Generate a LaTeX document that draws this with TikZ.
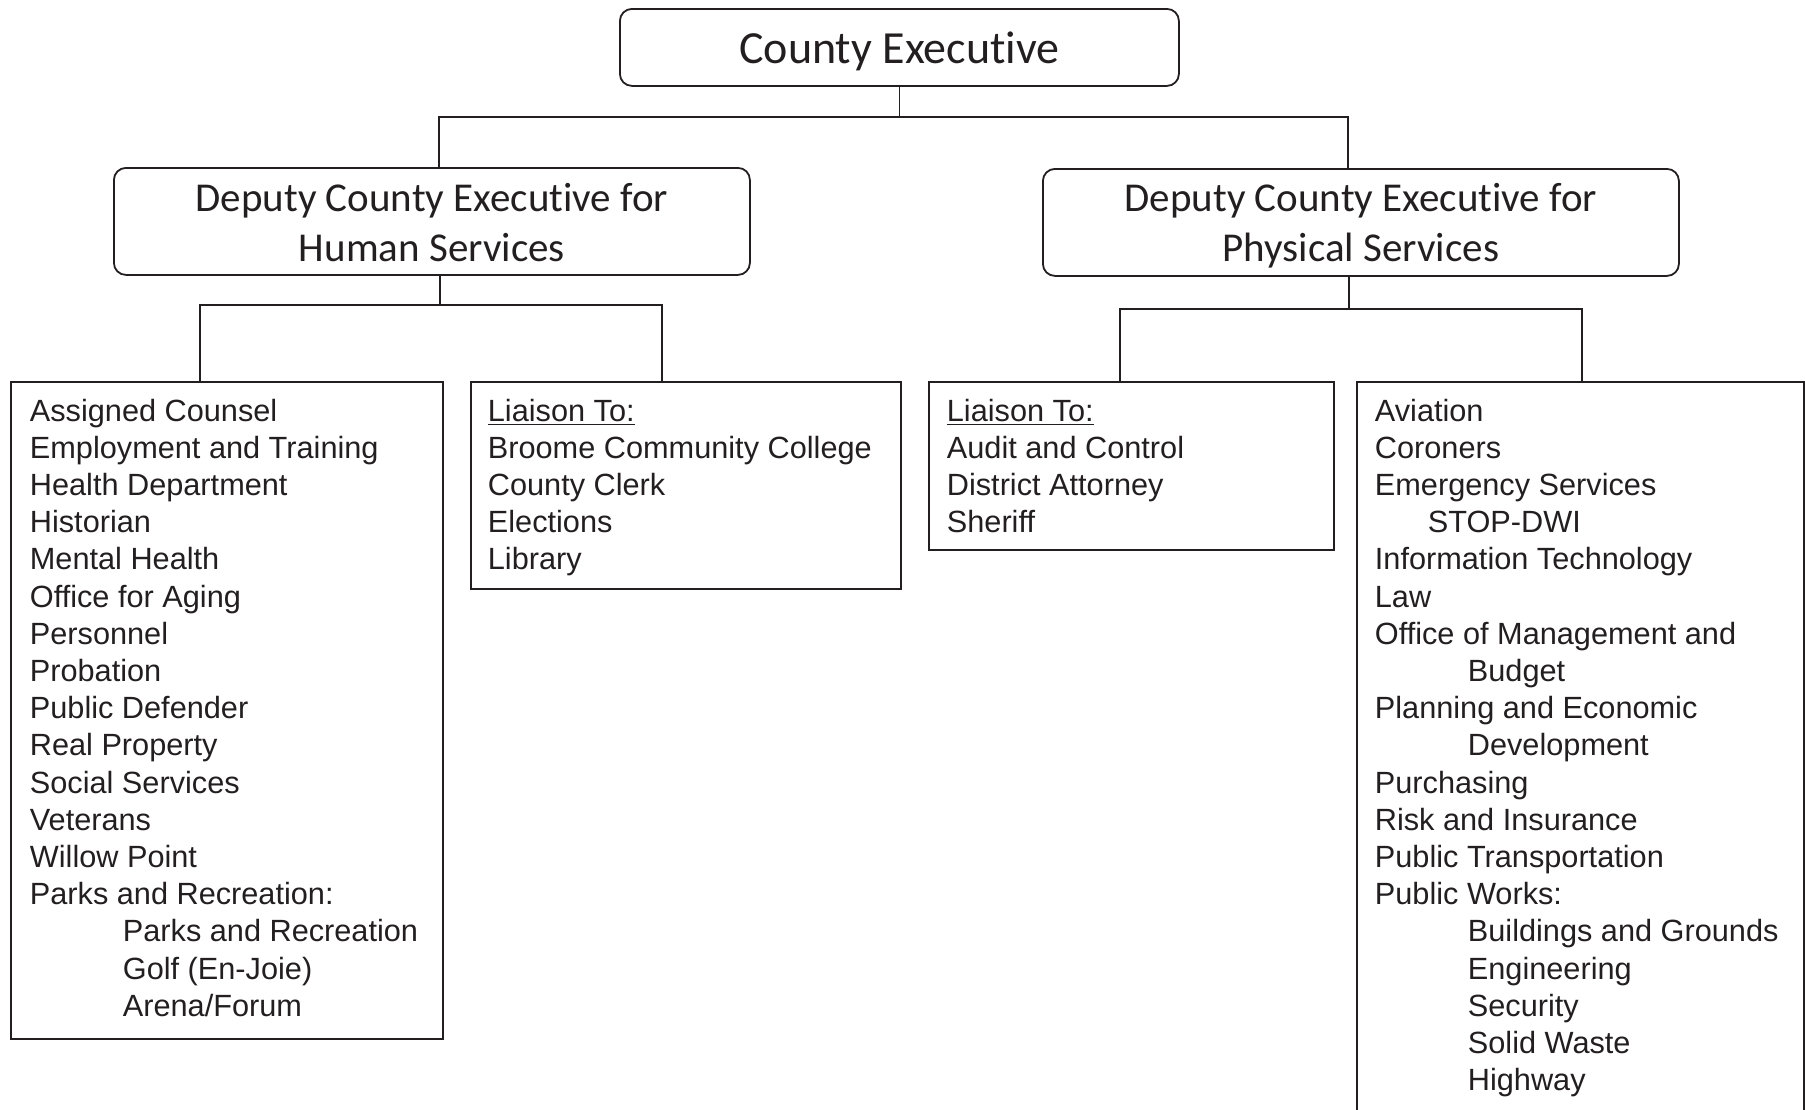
\documentclass[tikz,border=0pt]{standalone}
\usepackage{fontspec}
\setmainfont{Liberation Sans}
\newfontfamily\hdrfont[Ligatures=NoCommon,RawFeature={-liga;-dlig;-clig}]{Carlito}
\definecolor{ink}{HTML}{231F20}
\newcommand\lowertext[2]{\raisebox{-#1}[\height][\depth]{#2}}
\begin{document}
\begin{tikzpicture}[x=0.5pt,y=-0.5pt,line width=0.9pt,color=ink,
  hbox/.style={draw,rounded corners=6pt,inner sep=0pt,anchor=north west,align=center},
  lbox/.style={draw,inner sep=0pt,anchor=north west},
  li/.style={anchor=base west,inner sep=0pt,font=\fontsize{15.35}{18.6}\selectfont}]
\useasboundingbox (0,0) rectangle (1805,1109);
% header boxes
\node[hbox,minimum width=279.5pt,minimum height=38.5pt,font=\hdrfont\fontsize{23}{27}\selectfont] (ce) at (619,8) {\lowertext{1.8pt}{County Executive}};
\node[hbox,minimum width=318pt,minimum height=53.5pt,font=\hdrfont\fontsize{20.5}{24.75}\selectfont] (hs) at (113,167) {\lowertext{0.6pt}{Deputy County Executive for}\\\lowertext{0.6pt}{Human Services}};
\node[hbox,minimum width=318pt,minimum height=53.5pt,font=\hdrfont\fontsize{20.5}{24.75}\selectfont] (ps) at (1042,168) {\lowertext{1.6pt}{Deputy County Executive for}\\\lowertext{1.6pt}{Physical Services}};
% list boxes
\node[lbox,minimum width=216pt,minimum height=328.5pt] (b1) at (10,381) {};
\node[lbox,minimum width=215pt,minimum height=103.5pt] (b2) at (470,381) {};
\node[lbox,minimum width=202.5pt,minimum height=84pt] (b3) at (928,381) {};
\node[lbox,minimum width=223.5pt,minimum height=372pt] (b4) at (1356,381) {};
% connectors
\coordinate (jL) at (439,117);
\coordinate (jR) at (1348,117);
\draw (ce.south) -- (ce.south |- jL);
\draw (jL |- hs.north) -- (jL) -- (jR) -- (jR |- ps.north);
\coordinate (hj) at (440,305);
\coordinate (h1) at (200,305);
\coordinate (h2) at (662,305);
\draw (hj |- hs.south) -- (hj);
\draw (h1 |- b1.north) -- (h1) -- (h2) -- (h2 |- b2.north);
\coordinate (pj) at (1349,309);
\coordinate (p1) at (1120,309);
\coordinate (p2) at (1582,309);
\draw (pj |- ps.south) -- (pj);
\draw (p1 |- b3.north) -- (p1) -- (p2) -- (p2 |- b4.north);
% list texts
\foreach \t/\d [count=\i from 0] in {Assigned Counsel/0, Employment and Training/0, Health Department/0, Historian/0, Mental Health/0, Office for Aging/0, Personnel/0, Probation/0, Public Defender/0, Real Property/0, Social Services/0, Veterans/0, Willow Point/0, Parks and Recreation:/0, Parks and Recreation/93, Golf (En-Joie)/93, {Arena/Forum}/93}
  \node[li] (ta\i) at ({29+\d},{421+37.2*\i}) {\t};
\foreach \t [count=\i from 0] in {\underline{Liaison To:}, Broome Community College, County Clerk, Elections, Library}
  \node[li] (tb\i) at (487,{421+37.2*\i}) {\t};
\foreach \t [count=\i from 0] in {\underline{Liaison To:}, Audit and Control, District Attorney, Sheriff}
  \node[li] (tc\i) at (946,{421+37.2*\i}) {\t};
\foreach \t/\d [count=\i from 0] in {Aviation/0, Coroners/0, Emergency Services/0, STOP-DWI/53, Information Technology/0, Law/0, Office of Management and/0, Budget/93, Planning and Economic/0, Development/93, Purchasing/0, Risk and Insurance/0, Public Transportation/0, Public Works:/0, Buildings and Grounds/93, Engineering/93, Security/93, Solid Waste/93, Highway/93}
  \node[li] (td\i) at ({1374+\d},{421+37.2*\i}) {\t};
\end{tikzpicture}
\end{document}
